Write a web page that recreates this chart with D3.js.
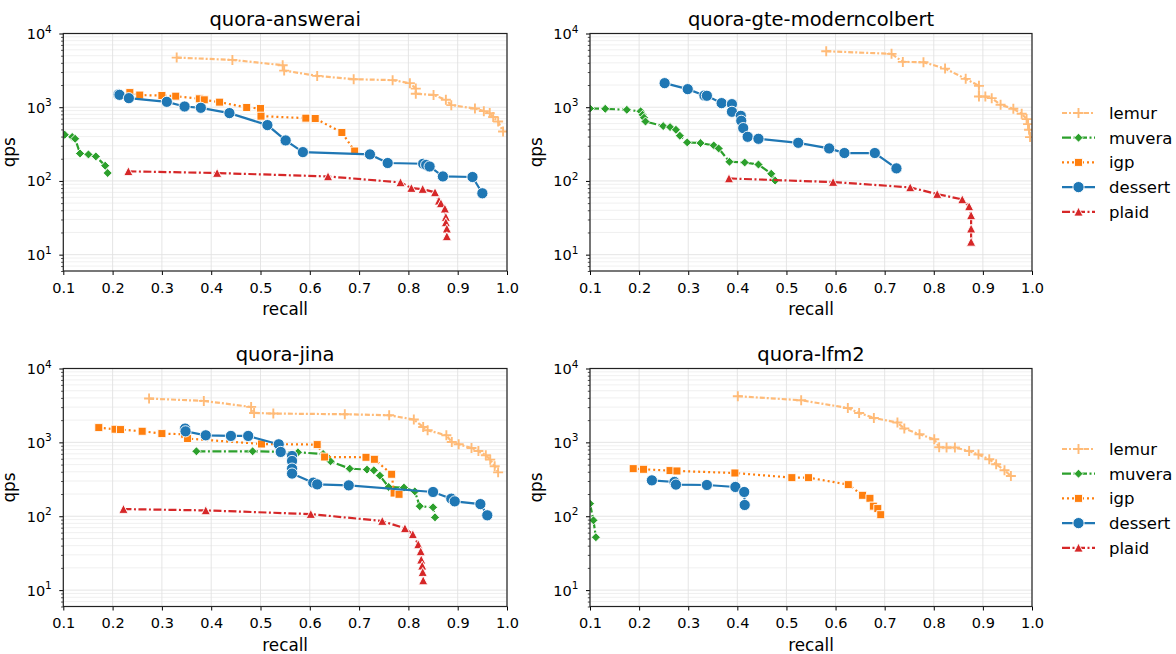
<!DOCTYPE html>
<html><head><meta charset="utf-8">
<script src="https://cdn.jsdelivr.net/npm/d3@7"></script>
<style>body{margin:0;background:#fff}svg{display:block;font-family:"DejaVu Sans",sans-serif}</style>
</head><body><svg id="c" width="1176" height="654"></svg>
<script>
// ---- data: [recall, qps] ----
const methods = ["lemur","muvera","igp","dessert","plaid"];
const colors = ["#ffbb78","#2ca02c","#ff7f0e","#1f77b4","#d62728"];
const xTicks = [0.1,0.2,0.3,0.4,0.5,0.6,0.7,0.8,0.9,1.0];
const yTicks = [10,100,1000,10000];
const titles = ["quora-answerai","quora-gte-moderncolbert","quora-jina","quora-lfm2"];

const answerai_lemur = [[0.330,4710],[0.443,4385],[0.545,3715],[0.548,3140],[0.615,2660],[0.689,2400],[0.768,2330],[0.803,2120],[0.815,1790],[0.815,1520],[0.851,1470],[0.876,1260],[0.887,1067],[0.935,960],[0.953,885],[0.965,832],[0.972,735],[0.982,640],[0.992,469]];
const answerai_muvera = [[0.103,423],[0.118,395],[0.124,373],[0.134,236],[0.151,229],[0.166,215],[0.185,161],[0.190,128]];
const answerai_igp = [[0.235,1580],[0.255,1459],[0.300,1442],[0.328,1413],[0.376,1300],[0.386,1260],[0.417,1172],[0.472,991],[0.500,960],[0.501,757],[0.592,711],[0.611,703],[0.665,454],[0.691,254]];
const answerai_dessert = [[0.212,1490],[0.214,1472],[0.233,1327],[0.310,1183],[0.346,1023],[0.379,982],[0.437,832],[0.514,572],[0.551,354],[0.586,246],[0.722,229],[0.758,175],[0.830,171],[0.836,165],[0.843,157],[0.870,115],[0.930,113],[0.950,68]];
const answerai_plaid = [[0.232,135],[0.412,128],[0.637,115],[0.784,95.5],[0.806,80],[0.829,77.6],[0.854,69.9],[0.862,53.9],[0.866,49.6],[0.874,42],[0.876,32.4],[0.876,27.4],[0.878,22.5],[0.878,17.7]];

const gte_lemur = [[0.581,5754],[0.714,5295],[0.737,4121],[0.779,4083],[0.823,3343],[0.865,2425],[0.892,1950],[0.892,1396],[0.905,1396],[0.918,1327],[0.936,1080],[0.962,951],[0.979,814],[0.989,690],[0.992,590],[0.994,494],[0.996,393]];
const gte_muvera = [[0.100,960],[0.131,951],[0.175,922],[0.203,880],[0.207,790],[0.210,720],[0.213,640],[0.249,554],[0.263,537],[0.275,494],[0.283,410],[0.298,333],[0.325,326],[0.352,303],[0.362,276],[0.384,182],[0.415,178],[0.443,167],[0.469,125],[0.477,101]];
const gte_igp = [];
const gte_dessert = [[0.252,2120],[0.299,1758],[0.333,1442],[0.338,1430],[0.368,1136],[0.389,1101],[0.389,866],[0.407,764],[0.408,654],[0.412,521],[0.421,397],[0.443,373],[0.524,329],[0.587,276],[0.618,239],[0.680,239],[0.724,148]];
const gte_plaid = [[0.383,108],[0.595,96.6],[0.752,81.7],[0.807,66.3],[0.858,56.1],[0.872,45.1],[0.876,34.1],[0.876,22.5],[0.876,14.9]];

const jina_lemur = [[0.274,3918],[0.385,3640],[0.481,3020],[0.487,2502],[0.526,2455],[0.671,2405],[0.761,2328],[0.811,2037],[0.830,1618],[0.839,1459],[0.877,1247],[0.888,1012],[0.902,942],[0.928,839],[0.942,765],[0.957,668],[0.966,584],[0.975,474],[0.982,393]];
const jina_muvera = [[0.370,757],[0.484,757],[0.540,745],[0.576,734],[0.627,697],[0.635,640],[0.642,554],[0.681,441],[0.716,428],[0.730,419],[0.742,355],[0.760,249],[0.791,244],[0.813,217],[0.823,137],[0.850,132],[0.854,96.6]];
const jina_igp = [[0.172,1585],[0.205,1506],[0.216,1490],[0.260,1413],[0.300,1315],[0.346,1288],[0.352,1125],[0.502,951],[0.615,933],[0.630,634],[0.714,628],[0.731,590],[0.766,370],[0.771,206],[0.781,198]];
const jina_dessert = [[0.347,1538],[0.348,1410],[0.389,1247],[0.440,1222],[0.475,1222],[0.537,942],[0.541,742],[0.564,654],[0.564,560],[0.564,441],[0.564,378],[0.607,285],[0.615,270],[0.679,262],[0.850,213],[0.887,173],[0.894,159],[0.946,146],[0.960,103]];
const jina_plaid = [[0.222,125],[0.389,120],[0.602,107],[0.747,86.1],[0.793,68.5],[0.809,56.9],[0.820,41.6],[0.825,33.4],[0.826,25.8],[0.828,21.4],[0.829,17.5],[0.830,13.5]];

const lfm2_lemur = [[0.401,4217],[0.530,3715],[0.625,2924],[0.648,2500],[0.678,2142],[0.726,1854],[0.740,1538],[0.771,1288],[0.801,1101],[0.811,859],[0.826,851],[0.843,851],[0.872,764],[0.891,684],[0.913,591],[0.927,505],[0.944,419],[0.957,351]];
const lfm2_muvera = [[0.100,148],[0.107,88],[0.112,52]];
const lfm2_igp = [[0.188,441],[0.209,432],[0.263,415],[0.277,410],[0.395,385],[0.511,333],[0.545,333],[0.626,268],[0.655,192],[0.670,175],[0.677,137],[0.686,127],[0.692,105]];
const lfm2_dessert = [[0.226,306],[0.272,291],[0.275,268],[0.338,265],[0.396,249],[0.414,213],[0.415,142]];
const lfm2_plaid = [];

const panelData = [
  [answerai_lemur, answerai_muvera, answerai_igp, answerai_dessert, answerai_plaid],
  [gte_lemur, gte_muvera, gte_igp, gte_dessert, gte_plaid],
  [jina_lemur, jina_muvera, jina_igp, jina_dessert, jina_plaid],
  [lfm2_lemur, lfm2_muvera, lfm2_igp, lfm2_dessert, lfm2_plaid]
];

// ---- styles ----
const dashes = ["5,2,2,2", "9,2.5,2,2.5", "2,3", null, "8,2.5,2,2.5"];
const LW = 2.2;
function marker(g, m, col) {
  if (m === 0) { // plus
    g.append("path").attr("d","M-5,0H5M0,-5V5").attr("stroke",col).attr("stroke-width",1.9).attr("fill","none");
  } else if (m === 1) { // diamond
    g.append("path").attr("d","M0,-4.5L4.5,0L0,4.5L-4.5,0Z").attr("fill",col).attr("stroke","#fff").attr("stroke-width",0.9);
  } else if (m === 2) { // square
    g.append("path").attr("d","M-4,-4H4V4H-4Z").attr("fill",col).attr("stroke","#fff").attr("stroke-width",0.9);
  } else if (m === 3) { // circle
    g.append("circle").attr("r",5.6).attr("fill",col).attr("stroke","#fff").attr("stroke-width",0.9);
  } else { // triangle
    g.append("path").attr("d","M0,-4.6L4.6,4.3L-4.6,4.3Z").attr("fill",col).attr("stroke","#fff").attr("stroke-width",0.9);
  }
}

const svg = d3.select("#c");
const cols = [[63.3,507],[590,1032]];
const rows = [[271,33.5],[606.5,368.5]];

panelData.forEach((series, pi) => {
  const c = cols[pi % 2], r = rows[Math.floor(pi / 2)];
  const x = d3.scaleLinear().domain([0.1,1.0]).range(c);
  const y = d3.scaleLog().domain([6,10000]).range(r);
  const g = svg.append("g");
  const cid = "clip" + pi;
  svg.append("clipPath").attr("id",cid).append("rect")
    .attr("x",c[0]).attr("y",r[1]).attr("width",c[1]-c[0]).attr("height",r[0]-r[1]);

  // grid
  const minor = [];
  for (let e = 0; e < 4; e++) for (let k = 2; k <= 9; k++) minor.push(k * Math.pow(10, e));
  const minorIn = minor.filter(v => v >= 6 && v <= 10000);
  g.append("g").selectAll("line").data(minorIn).join("line")
    .attr("x1",c[0]).attr("x2",c[1]).attr("y1",d=>y(d)).attr("y2",d=>y(d))
    .attr("stroke","#ececec").attr("stroke-width",0.8);
  g.append("g").selectAll("line").data(yTicks).join("line")
    .attr("x1",c[0]).attr("x2",c[1]).attr("y1",d=>y(d)).attr("y2",d=>y(d))
    .attr("stroke","#e2e2e2").attr("stroke-width",0.9);
  g.append("g").selectAll("line").data(xTicks).join("line")
    .attr("x1",d=>x(d)).attr("x2",d=>x(d)).attr("y1",r[0]).attr("y2",r[1])
    .attr("stroke","#e2e2e2").attr("stroke-width",0.9);

  // series
  const plot = g.append("g").attr("clip-path","url(#"+cid+")");
  series.forEach((pts, si) => {
    if (!pts.length) return;
    const sorted = pts.slice().sort((a,b)=>a[0]-b[0]);
    const line = d3.line().x(d=>x(d[0])).y(d=>y(d[1]));
    const p = plot.append("path").attr("d", line(sorted)).attr("fill","none")
      .attr("stroke", colors[si]).attr("stroke-width", LW);
    if (dashes[si]) p.attr("stroke-dasharray", dashes[si]);
    sorted.forEach(d => {
      const mg = plot.append("g").attr("transform","translate("+x(d[0])+","+y(d[1])+")");
      marker(mg, si, colors[si]);
    });
  });

  // axes
  const xa = g.append("g").attr("transform","translate(0,"+r[0]+")")
    .call(d3.axisBottom(x).tickValues(xTicks).tickFormat(d3.format(".1f")).tickSize(4).tickSizeOuter(0));
  xa.select(".domain").remove();
  xa.selectAll("text").attr("y",21.5).attr("dy",0).attr("font-size","14.5px").attr("font-family","DejaVu Sans").attr("fill","#000");
  xa.selectAll("line").attr("stroke","#000").attr("stroke-width",1);

  const ya = g.append("g").attr("transform","translate("+c[0]+",0)")
    .call(d3.axisLeft(y).tickValues(yTicks).tickSize(4).tickSizeOuter(0).tickFormat(""));
  ya.select(".domain").remove();
  ya.selectAll("line").attr("stroke","#000").attr("stroke-width",1);
  ya.selectAll(".tick").each(function(d){
    const t = d3.select(this).append("text").attr("x",-11.5).attr("y",5).attr("text-anchor","end")
      .attr("fill","#000").attr("font-size","14.5px").attr("font-family","DejaVu Sans");
    t.append("tspan").text("10");
    t.append("tspan").attr("dy",-6.5).attr("font-size","10.5px").text(String(Math.round(Math.log10(d))));
  });
  const ym = g.append("g").attr("transform","translate("+c[0]+",0)")
    .call(d3.axisLeft(y).tickValues(minorIn).tickSize(2.2).tickSizeOuter(0).tickFormat(""));
  ym.select(".domain").remove();
  ym.selectAll("line").attr("stroke","#000").attr("stroke-width",0.7);

  // spines
  g.append("rect").attr("x",c[0]).attr("y",r[1]).attr("width",c[1]-c[0]).attr("height",r[0]-r[1])
    .attr("fill","none").attr("stroke","#222").attr("stroke-width",1.2);

  // labels
  const cx = (c[0]+c[1])/2;
  g.append("text").attr("x",cx).attr("y",r[1]-8).attr("text-anchor","middle")
    .attr("font-size","19.5px").attr("fill","#000").text(titles[pi]);
  g.append("text").attr("x",cx).attr("y",r[0]+44).attr("text-anchor","middle")
    .attr("font-size","16.8px").attr("fill","#000").text("recall");
  g.append("text").attr("transform","translate("+(c[0]-48)+","+((r[0]+r[1])/2)+") rotate(-90)")
    .attr("text-anchor","middle").attr("font-size","16.8px").attr("fill","#000").text("qps");
});

// legends
[113, 449].forEach(ly => {
  const lg = svg.append("g");
  methods.forEach((m, i) => {
    const yy = ly + i * 24.7;
    const l = lg.append("line").attr("x1",1062).attr("x2",1095).attr("y1",yy).attr("y2",yy)
      .attr("stroke",colors[i]).attr("stroke-width",LW);
    if (dashes[i]) l.attr("stroke-dasharray",dashes[i]);
    const mg = lg.append("g").attr("transform","translate(1078.5,"+yy+")");
    marker(mg, i, colors[i]);
    lg.append("text").attr("x",1109).attr("y",yy+6).attr("font-size","16.5px").attr("fill","#000").text(m);
  });
});
</script></body></html>
